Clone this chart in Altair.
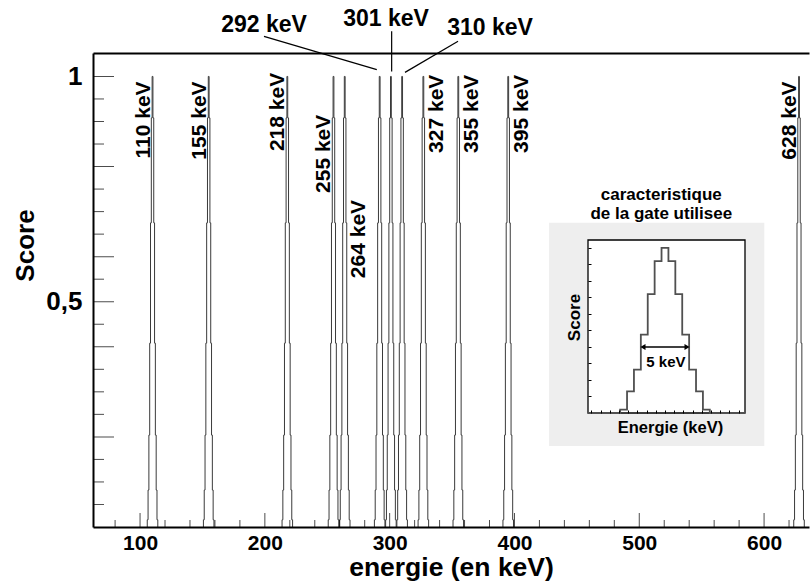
import altair as alt
import pandas as pd

FONT = "Liberation Sans"

# ---------------- data ----------------
peak_energies = [110, 155, 218, 255, 264, 292, 301, 310, 327, 355, 395, 628]
# stepped profile of each peak (score per bin), bin width in keV
main_levels = [0.016, 0.082, 0.204, 0.408, 0.675, 0.908, 1.0, 0.908, 0.675, 0.408, 0.204, 0.082, 0.016]
main_bin = 0.65

# rotated labels next to the peaks (value where the text ends)
left_E = [110, 155, 218, 255, 628]
left_E_top = [0.989, 0.989, 1.008, 0.915, 0.989]
right_E = [264, 327, 355, 395]
right_E_top = [0.726, 1.004, 1.004, 1.004]

# labels above the frame with leader lines
top_text = ["292 keV", "301 keV", "310 keV"]
top_x = [199.3, 297.1, 380.4]
top_y = [1.115, 1.128, 1.108]
lead_x1 = [199.3, 301.6, 354.8]
lead_y1 = [1.089, 1.100, 1.078]
lead_x2 = [289.7, 301.6, 312.3]
lead_y2 = [1.015, 1.011, 1.009]

# axes
x_domain = [62.3, 636.0]
y_domain = [0, 1.052]
x_ticks = [80, 100, 120, 140, 160, 180, 200, 220, 240, 260, 280, 300, 320, 340, 360, 380,
           400, 420, 440, 460, 480, 500, 520, 540, 560, 580, 600, 620]
x_major = [100, 200, 300, 400, 500, 600]
y_ticks = [0.05, 0.1, 0.15, 0.2, 0.25, 0.3, 0.35, 0.4, 0.45, 0.5, 0.55, 0.6, 0.65, 0.7,
           0.75, 0.8, 0.85, 0.9, 0.95, 1]
y_major = [0.2, 0.4, 0.5, 0.6, 0.8, 1]

# inset: gate characteristic
inset_levels = [0.02, 0.131, 0.263, 0.475, 0.72, 0.92, 1.0, 0.92, 0.72, 0.475, 0.263, 0.131, 0.02]
inset_bin = 0.75
inset_x_domain = [-8.37, 8.70]
inset_y_domain = [0, 1.048]
inset_box_x = [-12.6, 10.8]
inset_box_y = [-0.2, 1.152]
inset_y_ticks = [0.1, 0.2, 0.3, 0.4, 0.5, 0.6, 0.7, 0.8, 0.9, 1]
inset_x_ticks = [-8, -7, -6, -5, -4, -3, -2, -1, 0, 1, 2, 3, 4, 5, 6, 7, 8]
arrow_x = [-2.4, 2.4]
arrow_y = 0.40
inset_title = ["caracteristique", "de la gate utilisee"]
inset_title_y = [1.32, 1.205]

# ---------------- tables ----------------
rows = []
for E in peak_energies:
    n = len(main_levels)
    left = E - n * main_bin / 2
    rows.append({"peak": E, "x": left - 1, "y": -0.05})
    for i, lv in enumerate(main_levels):
        rows.append({"peak": E, "x": left + i * main_bin, "y": lv})
    rows.append({"peak": E, "x": left + n * main_bin, "y": -0.05})
peaks_df = pd.DataFrame(rows)

left_lab = pd.DataFrame({"E": left_E, "top": left_E_top, "t": [f"{e} keV" for e in left_E]})
right_lab = pd.DataFrame({"E": right_E, "top": right_E_top, "t": [f"{e} keV" for e in right_E]})
top_df = pd.DataFrame({"t": top_text, "x": top_x, "y": top_y})
lead_df = pd.DataFrame({"x": lead_x1, "y": lead_y1, "x2": lead_x2, "y2": lead_y2})

ytick_df = pd.DataFrame({"v": y_ticks, "x": x_domain[0],
                         "len": [42 if v in y_major else 22 for v in y_ticks]})
xtick_df = pd.DataFrame({"v": x_ticks, "y": y_domain[0],
                         "len": [28 if v in x_major else 14 for v in x_ticks]})

irows = [{"x": inset_x_domain[0], "y": 0}]
n = len(inset_levels)
ileft = -n * inset_bin / 2
for i, lv in enumerate(inset_levels):
    irows.append({"x": ileft + i * inset_bin, "y": lv})
irows.append({"x": ileft + n * inset_bin, "y": 0})
irows.append({"x": inset_x_domain[1], "y": 0})
inset_df = pd.DataFrame(irows)

xs = alt.Scale(domain=x_domain, nice=False, zero=False)
ys = alt.Scale(domain=y_domain, nice=False, zero=False)

x_axis = alt.Axis(
    orient="bottom", values=x_major, ticks=False, zindex=1,
    labelPadding=5, labelFont=FONT, labelFontSize=21, labelFontWeight="bold",
    labelColor="black", domainColor="black", domainWidth=2,
    grid=False, title="energie (en keV)", titleFont=FONT, titleFontSize=26.5,
    titleFontWeight="bold", titleColor="black", titleX=358, titleY=40,
    titleBaseline="middle", titleAlign="center",
)
y_axis = alt.Axis(
    orient="left", values=[0.5, 1], ticks=False, zindex=1,
    labelExpr="datum.value === 1 ? '1' : '0,5'",
    labelPadding=11, labelFont=FONT, labelFontSize=26, labelFontWeight="bold",
    labelColor="black", domainColor="black", domainWidth=2,
    grid=False, title="Score", titleFont=FONT, titleFontSize=26, titleFontWeight="bold",
    titleColor="black", titleX=-68, titleY=192, titleAngle=270, titleBaseline="middle",
    titleAlign="center",
)

peaks = alt.Chart(peaks_df).mark_line(
    interpolate="step-after", clip=True, stroke="#3a3a3a", strokeWidth=1
).encode(
    x=alt.X("x:Q", scale=xs, axis=x_axis),
    y=alt.Y("y:Q", scale=ys, axis=y_axis),
    detail="peak:N",
)

top_frame = alt.Chart(peaks_df).mark_line(opacity=0).encode(
    x=alt.X("x:Q", scale=xs, axis=alt.Axis(orient="top", labels=False, ticks=False, zindex=1,
                                            domainColor="black", domainWidth=2, title=None, grid=False)),
    y=alt.Y("y:Q", scale=ys, axis=None),
    detail="peak:N",
)

yticks = alt.Chart(ytick_df).mark_tick(orient="horizontal", thickness=1, clip=True, color="black").encode(
    x=alt.X("x:Q", scale=xs, axis=None), y=alt.Y("v:Q", scale=ys, axis=None),
    size=alt.Size("len:Q", scale=None, legend=None))
xticks = alt.Chart(xtick_df).mark_tick(orient="vertical", thickness=1, clip=True, color="black").encode(
    x=alt.X("v:Q", scale=xs, axis=None), y=alt.Y("y:Q", scale=ys, axis=None),
    size=alt.Size("len:Q", scale=None, legend=None))

lab_left = alt.Chart(left_lab).mark_text(
    angle=270, align="right", baseline="alphabetic", dy=-3,
    font=FONT, fontSize=21, fontWeight="bold", color="black"
).encode(x=alt.X("E:Q", scale=xs, axis=None), y=alt.Y("top:Q", scale=ys, axis=None), text="t:N")

lab_right = alt.Chart(right_lab).mark_text(
    angle=270, align="right", baseline="top", dy=3,
    font=FONT, fontSize=21, fontWeight="bold", color="black"
).encode(x=alt.X("E:Q", scale=xs, axis=None), y=alt.Y("top:Q", scale=ys, axis=None), text="t:N")

top_lab = alt.Chart(top_df).mark_text(
    font=FONT, fontSize=23, fontWeight="bold", color="black", baseline="middle", align="center"
).encode(x=alt.X("x:Q", scale=xs, axis=None), y=alt.Y("y:Q", scale=ys, axis=None), text="t:N")

leaders = alt.Chart(lead_df).mark_rule(color="black", strokeWidth=1.2).encode(
    x=alt.X("x:Q", scale=xs, axis=None), y=alt.Y("y:Q", scale=ys, axis=None), x2="x2:Q", y2="y2:Q"
)

# ---------------- inset ----------------
ixs = alt.Scale(domain=inset_x_domain, range=[495, 652], nice=False, zero=False)
iys = alt.Scale(domain=inset_y_domain, range=[360, 187], nice=False, zero=False)

box_df = pd.DataFrame({"x": [inset_box_x[0]], "x2": [inset_box_x[1]],
                       "y": [inset_box_y[0]], "y2": [inset_box_y[1]]})
frame_df = pd.DataFrame({"x": [inset_x_domain[0]], "x2": [inset_x_domain[1]],
                         "y": [inset_y_domain[0]], "y2": [inset_y_domain[1]]})

bg = alt.Chart(box_df).mark_rect(fill="#eeeeee").encode(
    x=alt.X("x:Q", scale=ixs, axis=None), x2="x2:Q",
    y=alt.Y("y:Q", scale=iys, axis=None), y2="y2:Q")
frame = alt.Chart(frame_df).mark_rect(fill="white", stroke="black", strokeWidth=1.3).encode(
    x=alt.X("x:Q", scale=ixs, axis=None), x2="x2:Q",
    y=alt.Y("y:Q", scale=iys, axis=None), y2="y2:Q")

ix_axis = alt.Axis(orient="bottom", offset=-117, values=inset_x_ticks, labels=False, domain=False,
                   tickSize=3, tickColor="black", grid=False, zindex=1, title="Energie (keV)",
                   titleFont=FONT, titleFontSize=16.5, titleFontWeight="bold", titleColor="black",
                   titleX=577, titleY=17, titleBaseline="middle", titleAlign="center")
iy_axis = alt.Axis(orient="left", offset=-498, values=inset_y_ticks, labels=False, domain=False,
                   tickSize=3, tickColor="black", grid=False, zindex=1, title="Score",
                   titleFont=FONT, titleFontSize=17, titleFontWeight="bold", titleColor="black",
                   titleX=-17, titleY=264, titleAngle=270, titleBaseline="middle", titleAlign="center")

hist = alt.Chart(inset_df).mark_line(interpolate="step-after", stroke="#505050", strokeWidth=1.8).encode(
    x=alt.X("x:Q", scale=ixs, axis=ix_axis),
    y=alt.Y("y:Q", scale=iys, axis=iy_axis),
)

arrow_df = pd.DataFrame({"x": [arrow_x[0]], "x2": [arrow_x[1]], "y": [arrow_y]})
arrow = alt.Chart(arrow_df).mark_rule(color="black", strokeWidth=1.6).encode(
    x=alt.X("x:Q", scale=ixs, axis=None), x2="x2:Q", y=alt.Y("y:Q", scale=iys, axis=None))
heads_df = pd.DataFrame({"x": arrow_x, "y": [arrow_y, arrow_y], "s": ["triangle-left", "triangle-right"]})
heads = alt.Chart(heads_df).mark_point(filled=True, color="black", size=35, opacity=1).encode(
    x=alt.X("x:Q", scale=ixs, axis=None), y=alt.Y("y:Q", scale=iys, axis=None),
    shape=alt.Shape("s:N", scale=None))
kev_df = pd.DataFrame({"x": [0.1], "y": [0.31], "t": ["5 keV"]})
kev = alt.Chart(kev_df).mark_text(font=FONT, fontSize=15, fontWeight="bold", color="black").encode(
    x=alt.X("x:Q", scale=ixs, axis=None), y=alt.Y("y:Q", scale=iys, axis=None), text="t:N")
ttl_df = pd.DataFrame({"x": [-0.4, -0.4], "y": inset_title_y, "t": inset_title})
ttl = alt.Chart(ttl_df).mark_text(font=FONT, fontSize=17, fontWeight="bold", color="black",
                                  baseline="middle").encode(
    x=alt.X("x:Q", scale=ixs, axis=None), y=alt.Y("y:Q", scale=iys, axis=None), text="t:N")

chart = alt.layer(
    peaks, top_frame, yticks, xticks, lab_left, lab_right, top_lab, leaders,
    bg, frame, hist, arrow, heads, kev, ttl,
).resolve_scale(x="independent", y="independent").properties(
    width=716, height=474,
    padding={"left": 93, "top": 53, "right": 1, "bottom": 56},
    autosize=alt.AutoSizeParams(type="none"),
    background="white",
).configure_view(stroke=None)

chart.save("out.html", embed_options={"renderer": "svg", "actions": False})
